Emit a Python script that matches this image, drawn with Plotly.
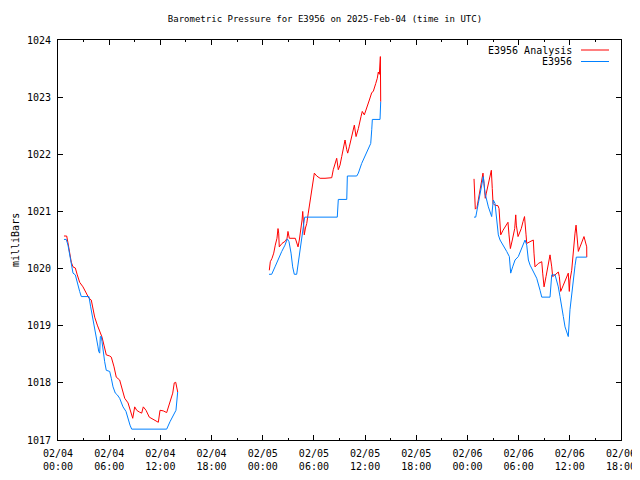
import pandas as pd
import plotly.graph_objects as go

BASE = pd.Timestamp("2025-02-04 00:00")

# ---- data: hours since 2025-02-04 00:00 UTC, pressure in mb ----
# E3956 Analysis (red)
ana_h1 = [0.70, 1.02, 1.17, 1.37, 1.56, 1.76, 2.03, 2.26, 2.54, 2.93, 3.32, 3.63, 3.90, 4.10, 4.30,
          4.61, 4.89, 5.16, 5.39, 5.66, 6.06, 6.25, 6.57, 6.83, 7.23, 7.42, 7.82, 8.21, 8.44, 8.76,
          8.99, 9.23, 9.53, 9.81, 10.00, 10.32, 10.70, 10.98, 11.37, 11.76, 11.96, 12.34, 12.74,
          13.13, 13.45, 13.63, 13.80, 14.03]
ana_v1 = [1020.57, 1020.57, 1020.45, 1020.27, 1020.11, 1020.03, 1020.01, 1019.89, 1019.76, 1019.68,
          1019.57, 1019.48, 1019.45, 1019.31, 1019.15, 1019.01, 1018.89, 1018.80, 1018.66, 1018.49,
          1018.47, 1018.45, 1018.28, 1018.10, 1018.05, 1017.93, 1017.73, 1017.65, 1017.52, 1017.38,
          1017.58, 1017.52, 1017.49, 1017.47, 1017.58, 1017.52, 1017.40, 1017.38, 1017.35, 1017.31,
          1017.52, 1017.51, 1017.48, 1017.65, 1017.82, 1018.00, 1018.01, 1017.84]
ana_h2 = [24.77, 24.89, 25.09, 25.29, 25.47, 25.67, 25.79, 25.87, 25.94, 26.26, 26.65, 26.85, 26.96,
          27.12, 27.82, 28.02, 28.14, 28.29, 28.41, 28.61, 28.69, 28.76, 28.87, 29.01, 29.16, 29.34,
          29.54, 29.74, 29.93, 30.05, 30.33, 30.72, 31.30, 32.09, 32.27, 32.47, 32.67, 32.86, 33.06,
          33.26, 33.45, 33.65, 33.85, 33.96, 34.15, 34.43, 34.74, 34.94, 35.21, 35.52, 35.67, 35.91,
          36.19, 36.50, 36.78, 36.96, 37.25, 37.43, 37.55, 37.67, 37.79, 37.83]
ana_v2 = [1019.97, 1020.12, 1020.18, 1020.27, 1020.41, 1020.53, 1020.70, 1020.62, 1020.38, 1020.44,
          1020.48, 1020.53, 1020.65, 1020.53, 1020.53, 1020.44, 1020.38, 1020.50, 1020.62, 1020.85,
          1021.00, 1020.88, 1020.59, 1020.71, 1020.79, 1020.97, 1021.17, 1021.38, 1021.58, 1021.67,
          1021.62, 1021.58, 1021.58, 1021.59, 1021.73, 1021.84, 1021.93, 1021.73, 1021.81, 1021.96,
          1022.08, 1022.25, 1022.08, 1022.02, 1022.13, 1022.31, 1022.51, 1022.31, 1022.45, 1022.66,
          1022.75, 1022.69, 1022.80, 1022.95, 1023.08, 1023.10, 1023.24, 1023.33, 1023.44, 1023.40,
          1023.71, 1022.92]
ana_h3 = [48.77, 48.85, 48.92, 49.12, 49.24, 49.44, 49.63, 49.74, 49.82, 49.94, 50.02, 50.09, 50.21,
          50.41, 50.61, 50.80, 50.91, 51.00, 51.20, 51.58, 51.70, 51.78, 51.90, 52.17, 52.56, 52.75,
          52.87, 53.03, 53.26, 53.54, 53.66, 53.73, 53.93, 54.13, 54.31, 54.51, 54.69, 54.87, 54.95,
          55.33, 55.72, 55.80, 55.92, 56.31, 56.71, 56.82, 56.98, 57.21, 57.48, 57.68, 57.88, 57.99,
          58.27, 58.65, 58.77, 58.93, 59.24, 59.64, 59.82, 59.94, 60.02, 60.22, 60.41, 60.61, 60.73,
          60.88, 61.00, 61.20, 61.46, 61.66, 61.98, 61.99]
ana_v3 = [1021.57, 1021.23, 1021.04, 1021.07, 1021.17, 1021.35, 1021.46, 1021.58, 1021.67, 1021.49,
          1021.29, 1021.23, 1021.32, 1021.46, 1021.61, 1021.72, 1021.40, 1021.14, 1021.11, 1021.10,
          1021.05, 1020.76, 1020.59, 1020.67, 1020.76, 1020.81, 1020.59, 1020.35, 1020.50, 1020.70,
          1020.94, 1020.76, 1020.56, 1020.62, 1020.70, 1020.82, 1020.91, 1020.59, 1020.44, 1020.47,
          1020.50, 1020.27, 1020.03, 1020.09, 1020.12, 1019.92, 1019.68, 1019.86, 1020.09, 1020.24,
          1020.03, 1019.86, 1019.89, 1019.94, 1019.86, 1019.60, 1019.71, 1019.86, 1019.92, 1019.60,
          1019.80, 1019.97, 1020.33, 1020.62, 1020.76, 1020.44, 1020.30, 1020.38, 1020.50, 1020.56,
          1020.38, 1020.20]

# E3956 observations (blue)
obs_h1 = [0.70, 0.97, 1.17, 1.49, 1.64, 1.76, 2.03, 2.26, 2.54, 2.73, 3.63, 3.83, 4.10, 4.30, 4.49,
          4.69, 4.77, 4.89, 4.96, 5.08, 5.16, 5.28, 5.47, 5.66, 6.06, 6.25, 6.45, 6.72, 6.95, 7.23,
          7.62, 7.97, 8.24, 8.44, 8.64, 12.74, 13.13, 13.52, 13.83, 14.03]
obs_v1 = [1020.51, 1020.51, 1020.41, 1020.15, 1020.03, 1019.92, 1019.89, 1019.74, 1019.60, 1019.51,
          1019.51, 1019.33, 1019.13, 1018.98, 1018.81, 1018.63, 1018.55, 1018.52, 1018.81, 1018.81,
          1018.72, 1018.57, 1018.37, 1018.22, 1018.20, 1018.08, 1017.93, 1017.82, 1017.79, 1017.73,
          1017.58, 1017.50, 1017.35, 1017.26, 1017.19, 1017.19, 1017.32, 1017.44, 1017.52, 1017.84]
obs_h2 = [24.74, 25.05, 25.44, 25.83, 26.23, 26.61, 26.88, 27.08, 27.32, 27.51, 27.70, 27.98, 28.17,
          28.37, 28.57, 28.76, 28.92, 32.74, 32.86, 33.85, 33.92, 35.02, 35.21, 35.60, 35.99, 36.38,
          36.66, 36.78, 36.85, 37.75, 37.83]
obs_v2 = [1019.90, 1019.90, 1020.03, 1020.18, 1020.30, 1020.41, 1020.52, 1020.47, 1020.27, 1020.03,
          1019.90, 1019.90, 1020.09, 1020.33, 1020.50, 1020.67, 1020.90, 1020.90, 1021.21, 1021.21,
          1021.62, 1021.62, 1021.67, 1021.84, 1021.96, 1022.10, 1022.19, 1022.43, 1022.61, 1022.61,
          1022.92]
obs_h3 = [48.77, 48.97, 49.27, 49.47, 49.67, 49.86, 50.06, 50.45, 50.84, 51.03, 51.23, 51.43, 51.62,
          51.82, 52.20, 52.60, 52.91, 53.07, 53.30, 53.58, 53.96, 54.36, 54.75, 54.95, 55.14, 55.34,
          55.72, 56.12, 56.51, 56.71, 57.68, 57.88, 58.27, 58.65, 58.85, 59.05, 59.24, 59.44, 59.82,
          60.02, 60.22, 60.41, 60.61, 60.76, 61.98]
obs_v3 = [1020.90, 1020.90, 1021.14, 1021.32, 1021.46, 1021.61, 1021.32, 1021.08, 1020.91, 1021.20,
          1021.14, 1020.85, 1020.59, 1020.50, 1020.41, 1020.30, 1020.21, 1019.92, 1020.03, 1020.15,
          1020.21, 1020.35, 1020.50, 1020.41, 1020.15, 1020.06, 1019.94, 1019.83, 1019.62, 1019.50,
          1019.50, 1019.89, 1019.89, 1019.68, 1019.51, 1019.28, 1019.16, 1018.98, 1018.81, 1019.28,
          1019.57, 1019.86, 1020.05, 1020.20, 1020.20]

series_names = ["E3956 Analysis", "E3956"]
series_colors = ["#ff0000", "#0080ff"]
y_range = [1017, 1024]
x_range_hours = [0, 66]


def join(segs_h, segs_v):
    xs, ys = [], []
    for h, v in zip(segs_h, segs_v):
        if xs:
            xs.append(None)
            ys.append(None)
        xs += [BASE + pd.Timedelta(hours=t) for t in h]
        ys += list(v)
    return xs, ys


ana_x, ana_y = join([ana_h1, ana_h2, ana_h3], [ana_v1, ana_v2, ana_v3])
obs_x, obs_y = join([obs_h1, obs_h2, obs_h3], [obs_v1, obs_v2, obs_v3])

FONT = "DejaVu Sans Mono"

fig = go.Figure()
fig.add_trace(go.Scatter(x=ana_x, y=ana_y, mode="lines", name=series_names[0],
                         line=dict(color=series_colors[0], width=1), connectgaps=False,
                         showlegend=False))
fig.add_trace(go.Scatter(x=obs_x, y=obs_y, mode="lines", name=series_names[1],
                         line=dict(color=series_colors[1], width=1), connectgaps=False,
                         showlegend=False))

# page has an 8px body margin: figure is drawn from page (8, 8) to (640, 480)
OFF = 8
W, H = 640 - OFF, 480 - OFF
L, T = 58 - OFF, 40 - OFF
R, B = 640 - 621, 480 - 440
pw, ph = W - L - R, H - T - B

fig.update_layout(
    width=W, height=H,
    margin=dict(l=L, r=R, t=T, b=B, autoexpand=False),
    plot_bgcolor="white", paper_bgcolor="white",
    font=dict(family=FONT, size=10, color="black"),
    title=dict(text="Barometric Pressure for E3956 on 2025-Feb-04 (time in UTC)",
               x=(325 - OFF) / W, xref="container", xanchor="center",
               y=1 - (19 - OFF) / H, yref="container", yanchor="middle",
               font=dict(family=FONT, size=9, color="black")),
    showlegend=False,
)

fig.update_xaxes(
    type="date", automargin=False,
    range=[BASE + pd.Timedelta(hours=x_range_hours[0]), BASE + pd.Timedelta(hours=x_range_hours[1])],
    tick0=BASE, dtick=6 * 3600 * 1000, tickformat="%m/%d<br>%H:%M",
    ticks="inside", ticklen=5, tickcolor="black", tickwidth=1,
    minor=dict(ticks="inside", ticklen=2, dtick=3 * 3600 * 1000, tickcolor="black", showgrid=False),
    showline=True, linecolor="black", linewidth=1, mirror="allticks",
    showgrid=False, zeroline=False, ticklabelstandoff=4,
    tickfont=dict(family=FONT, size=10, color="black"),
)
fig.update_yaxes(
    automargin=False,
    range=y_range, tick0=1017, dtick=1,
    ticks="inside", ticklen=5, tickcolor="black", tickwidth=1,
    showline=True, linecolor="black", linewidth=1, mirror="allticks",
    showgrid=False, zeroline=False, tickformat="d", ticklabelstandoff=4,
    tickfont=dict(family=FONT, size=10, color="black"),
)

# y-axis label
fig.add_annotation(text="milliBars", textangle=-90, xref="paper", yref="paper",
                   x=(15 - 58) / pw, y=0.5, xanchor="center", yanchor="middle",
                   showarrow=False, font=dict(family=FONT, size=10, color="black"))

# legend (text right, sample line to the right, as in the reference)
leg_rows_px = [50, 61.5]
for name, color, ypx in zip(series_names, series_colors, leg_rows_px):
    yp = (440 - ypx) / ph
    fig.add_annotation(text=name, xref="paper", yref="paper", x=(574 - 58) / pw, y=yp,
                       xanchor="right", yanchor="middle", showarrow=False,
                       font=dict(family=FONT, size=10, color="black"))
    fig.add_shape(type="line", xref="paper", yref="paper",
                  x0=(581 - 58) / pw, x1=(609 - 58) / pw, y0=yp, y1=yp,
                  line=dict(color=color, width=1))

fig.write_html("out.html")
